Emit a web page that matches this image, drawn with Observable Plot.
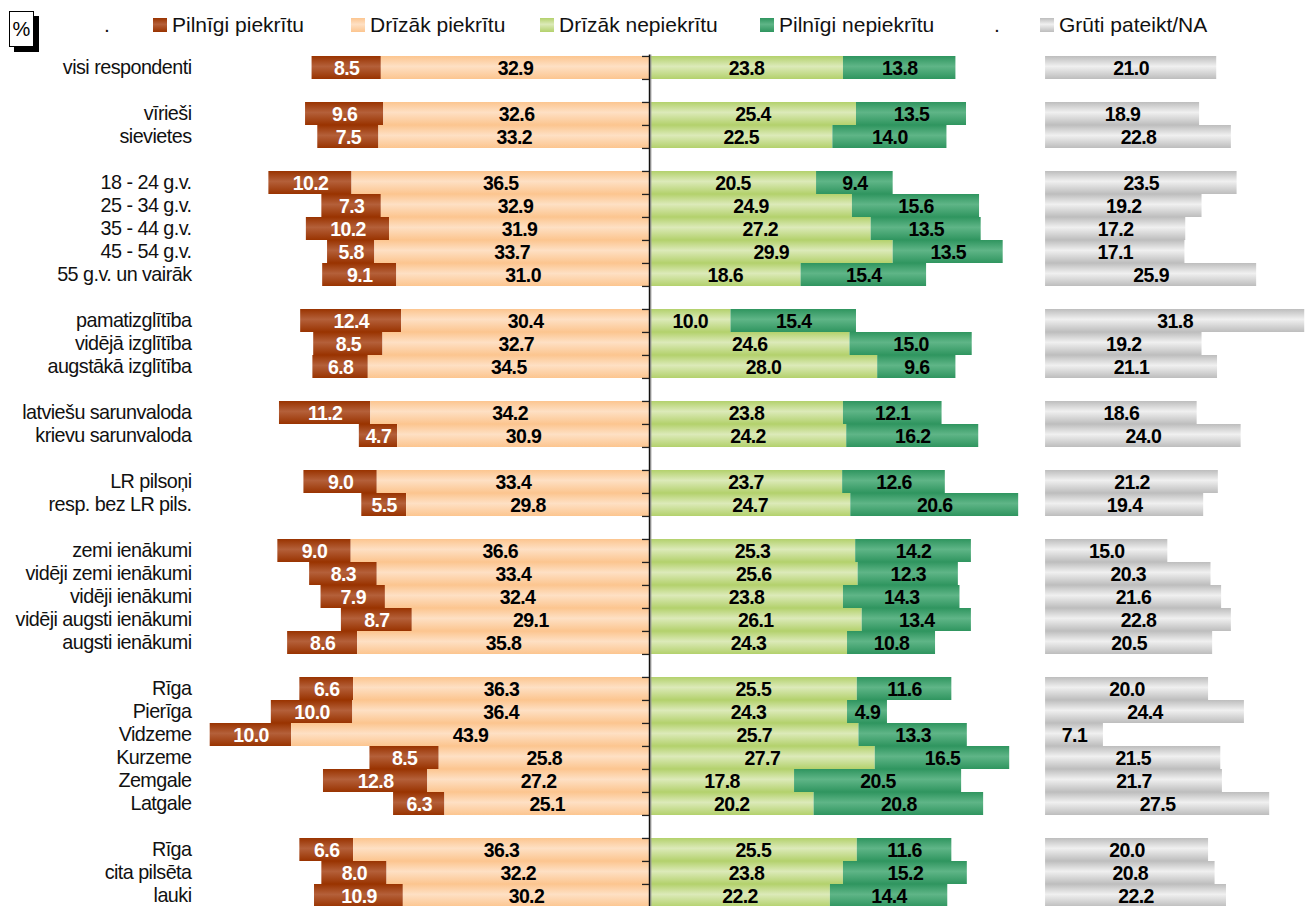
<!DOCTYPE html>
<html>
<head>
<meta charset="utf-8">
<script src="https://cdn.jsdelivr.net/npm/d3@7"></script>
<script src="https://cdn.jsdelivr.net/npm/@observablehq/plot@0.6"></script>
<style>
  html, body { margin: 0; padding: 0; background: #fff; overflow: hidden; }
  body { width: 1307px; height: 906px; position: relative; font-family: "Liberation Sans", Arial, sans-serif; }
  #legend { position: relative; height: 53px; width: 1307px; }
  .pct { position: absolute; left: 9px; top: 11px; width: 23px; height: 34px; border: 1px solid #000; background: #fff;
         box-shadow: 5px 5px 0 #000; font-size: 20px; line-height: 34px; text-align: center; }
  .item { position: absolute; top: 12px; height: 26px; display: flex; align-items: center; font-size: 21px; color: #111; white-space: nowrap; }
  .sw { width: 14px; height: 14px; margin-right: 5px; display: inline-block; }
  .dot { position: absolute; top: 12px; font-size: 21px; line-height: 26px; color: #111; }
  svg.chart g[aria-label="text"] text { letter-spacing: -0.6px; }
  svg.chart g[aria-label="y-axis tick label"] text { letter-spacing: -0.55px; }
</style>
</head>
<body>
<div id="legend"></div>
<div id="chart"></div>
<script>
// ---- data ----
const categories = [
  "visi respondenti",
  "vīrieši", "sievietes",
  "18 - 24 g.v.", "25 - 34 g.v.", "35 - 44 g.v.", "45 - 54 g.v.", "55 g.v. un vairāk",
  "pamatizglītība", "vidējā izglītība", "augstākā izglītība",
  "latviešu sarunvaloda", "krievu sarunvaloda",
  "LR pilsoņi", "resp. bez LR pils.",
  "zemi ienākumi", "vidēji zemi ienākumi", "vidēji ienākumi", "vidēji augsti ienākumi", "augsti ienākumi",
  "Rīga", "Pierīga", "Vidzeme", "Kurzeme", "Zemgale", "Latgale",
  "Rīga", "cita pilsēta", "lauki"
];
const groupSizes = [1, 2, 5, 3, 2, 2, 5, 6, 3];
const pilnigiPiekritu   = [8.5, 9.6, 7.5, 10.2, 7.3, 10.2, 5.8, 9.1, 12.4, 8.5, 6.8, 11.2, 4.7, 9.0, 5.5, 9.0, 8.3, 7.9, 8.7, 8.6, 6.6, 10.0, 10.0, 8.5, 12.8, 6.3, 6.6, 8.0, 10.9];
const drizakPiekritu    = [32.9, 32.6, 33.2, 36.5, 32.9, 31.9, 33.7, 31.0, 30.4, 32.7, 34.5, 34.2, 30.9, 33.4, 29.8, 36.6, 33.4, 32.4, 29.1, 35.8, 36.3, 36.4, 43.9, 25.8, 27.2, 25.1, 36.3, 32.2, 30.2];
const drizakNepiekritu  = [23.8, 25.4, 22.5, 20.5, 24.9, 27.2, 29.9, 18.6, 10.0, 24.6, 28.0, 23.8, 24.2, 23.7, 24.7, 25.3, 25.6, 23.8, 26.1, 24.3, 25.5, 24.3, 25.7, 27.7, 17.8, 20.2, 25.5, 23.8, 22.2];
const pilnigiNepiekritu = [13.8, 13.5, 14.0, 9.4, 15.6, 13.5, 13.5, 15.4, 15.4, 15.0, 9.6, 12.1, 16.2, 12.6, 20.6, 14.2, 12.3, 14.3, 13.4, 10.8, 11.6, 4.9, 13.3, 16.5, 20.5, 20.8, 11.6, 15.2, 14.4];
const grutiPateikt      = [21.0, 18.9, 22.8, 23.5, 19.2, 17.2, 17.1, 25.9, 31.8, 19.2, 21.1, 18.6, 24.0, 21.2, 19.4, 15.0, 20.3, 21.6, 22.8, 20.5, 20.0, 24.4, 7.1, 21.5, 21.7, 27.5, 20.0, 20.8, 22.2];
const seriesNames = ["Pilnīgi piekrītu", "Drīzāk piekrītu", "Drīzāk nepiekrītu", "Pilnīgi nepiekrītu", "Grūti pateikt/NA"];
const grayStart = 48.6; // end of the hidden "." spacer series

// ---- styles ----
const grads = [
  {id: "gBrown", edge: "#993300", mid: "#b4603a", text: "#fff"},
  {id: "gPeach", edge: "#fcc58f", mid: "#fee0c4", text: "#000"},
  {id: "gLGreen", edge: "#b3d16c", mid: "#dceab9", text: "#000"},
  {id: "gDGreen", edge: "#2f955f", mid: "#5fb587", text: "#000"},
  {id: "gGray", edge: "#bdbdbd", mid: "#f0f0f0", text: "#000"}
];

// ---- slots (rows plus blank separators) ----
const slots = [];
let k = 0;
groupSizes.forEach((n, g) => {
  if (g > 0) slots.push({id: "gap" + g, label: ""});
  for (let i = 0; i < n; i++, k++) slots.push({id: "r" + k, label: categories[k]});
});
const labelOf = new Map(slots.map(s => [s.id, s.label]));

// ---- segments ----
const segs = [];
categories.forEach((c, i) => {
  const id = "r" + i;
  const a = pilnigiPiekritu[i], b = drizakPiekritu[i], c2 = drizakNepiekritu[i], d = pilnigiNepiekritu[i], e = grutiPateikt[i];
  segs.push({id, s: 0, v: a, x1: -(a + b), x2: -b});
  segs.push({id, s: 1, v: b, x1: -b, x2: 0});
  segs.push({id, s: 2, v: c2, x1: 0, x2: c2});
  segs.push({id, s: 3, v: d, x1: c2, x2: c2 + d});
  segs.push({id, s: 4, v: e, x1: grayStart, x2: grayStart + e});
});

const W = 1307, H = 856, mTop = 1.5;
const step = (H - mTop) / slots.length;
const font = '"Liberation Sans", Arial, sans-serif';

const marks = [];
grads.forEach((g, s) => {
  marks.push(Plot.barX(segs.filter(d => d.s === s), {x1: "x1", x2: "x2", y: "id", fill: `url(#${g.id})`}));
});
marks.push(Plot.ruleX([0], {stroke: "#999", strokeWidth: 1.2, dx: 1.3}));
marks.push(Plot.ruleX([0], {stroke: "#111", strokeWidth: 1.4}));
marks.push(Plot.ruleY(slots, {y: "id", x1: -0.86, x2: 0, stroke: "#222", strokeWidth: 1.3, dy: -step / 2}));
grads.forEach((g, s) => {
  marks.push(Plot.text(segs.filter(d => d.s === s), {
    x: d => (d.x1 + d.x2) / 2, y: "id", text: d => d.v.toFixed(1),
    fill: g.text, fontWeight: "bold", fontSize: 19.5, dy: 0.5, fontFamily: font
  }));
});
marks.push(Plot.axisY({tickSize: 0, tickPadding: 9, tickFormat: id => labelOf.get(id), label: null, fontSize: 19.8, fill: "#111", fontFamily: font}));

const plot = Plot.plot({
  width: W, height: H,
  marginLeft: 200, marginRight: 0, marginTop: mTop, marginBottom: 0,
  className: "chart",
  x: {domain: [-55.09, 80.74], axis: null},
  y: {domain: slots.map(s => s.id), padding: 0, axis: null, label: null},
  style: {fontFamily: font, fontSize: "18px", background: "#fff", overflow: "visible"},
  marks
});
plot.classList.add("chart");

// gradient defs
const svg = d3.select(plot);
const defs = svg.insert("defs", ":first-child");
grads.forEach(g => {
  const lg = defs.append("linearGradient").attr("id", g.id).attr("x1", 0).attr("y1", 0).attr("x2", 0).attr("y2", 1);
  lg.append("stop").attr("offset", "0%").attr("stop-color", g.edge);
  lg.append("stop").attr("offset", "45%").attr("stop-color", g.mid);
  lg.append("stop").attr("offset", "100%").attr("stop-color", g.edge);
});
document.getElementById("chart").appendChild(plot);

// legend
const legend = document.getElementById("legend");
legend.innerHTML = '<div class="pct">%</div>';
const dots = [104, 994];
dots.forEach(x => { const s = document.createElement("div"); s.className = "dot"; s.style.left = x + "px"; s.textContent = "."; legend.appendChild(s); });
const swX = [153, 351, 540, 760, 1040];
seriesNames.forEach((n, i) => {
  const g = grads[i];
  const it = document.createElement("div");
  it.className = "item";
  it.style.left = swX[i] + "px";
  it.innerHTML = `<span class="sw" style="background:linear-gradient(${g.edge},${g.mid} 45%,${g.edge})"></span><span>${n}</span>`;
  legend.appendChild(it);
});
</script>
</body>
</html>
